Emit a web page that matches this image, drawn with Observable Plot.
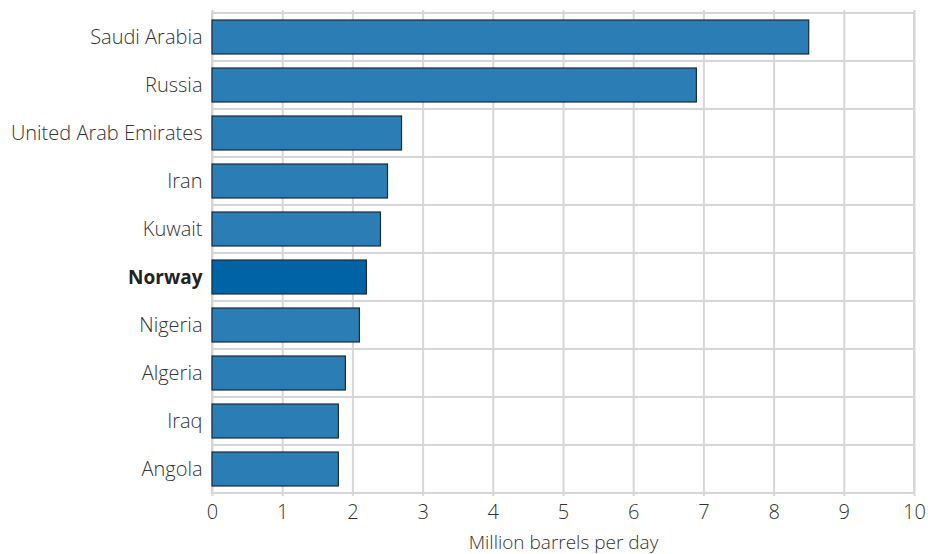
<!DOCTYPE html>
<html>
<head>
<meta charset="utf-8">
<script src="https://cdn.jsdelivr.net/npm/d3@7"></script>
<script src="https://cdn.jsdelivr.net/npm/@observablehq/plot@0.6"></script>
<style>
  html, body { margin: 0; padding: 0; background: #fff; }
  #chart svg { display: block; }
</style>
</head>
<body>
<div id="chart"></div>
<script>
const countries = ["Saudi Arabia", "Russia", "United Arab Emirates", "Iran", "Kuwait", "Norway", "Nigeria", "Algeria", "Iraq", "Angola"];
const production = [8.5, 6.9, 2.7, 2.5, 2.4, 2.2, 2.1, 1.9, 1.8, 1.8];
const highlight = "Norway";
const xTicks = [0, 1, 2, 3, 4, 5, 6, 7, 8, 9, 10];
const xLabel = "Million barrels per day";

const data = countries.map((c, i) => ({country: c, value: production[i]}));

const chart = Plot.plot({
  width: 928,
  height: 554,
  marginLeft: 212,
  marginRight: 14,
  marginTop: 10,
  marginBottom: 58,
  style: {fontFamily: "'Open Sans', sans-serif", fontSize: "20px", fontWeight: 300, color: "#333", background: "#fff"},
  x: {domain: [0, 10], ticks: xTicks, label: null},
  y: {domain: countries, padding: 0, label: null, axis: null},
  marks: [
    Plot.gridX(xTicks, {stroke: "#d6d6d6", strokeWidth: 2, strokeOpacity: 1}),
    Plot.barX(countries, {y: d => d, x1: 0, x2: 10, fill: "none", stroke: "#d6d6d6", strokeWidth: 2}),
    Plot.barX(data, {
      y: "country", x: "value",
      fill: d => d.country === highlight ? "#0063a6" : "#2a7db5",
      stroke: "#1c2b3a", strokeWidth: 1.2,
      insetTop: 7, insetBottom: 7
    }),
    Plot.text(countries.filter(c => c !== highlight), {
      y: d => d, x: 0, dx: -10, text: d => d, textAnchor: "end",
      fill: "#333", fontSize: 20, fontWeight: 300
    }),
    Plot.text([highlight], {
      y: d => d, x: 0, dx: -10, text: d => d, textAnchor: "end",
      fill: "#222", fontSize: 19, fontWeight: "bold"
    }),
    Plot.axisX(xTicks, {tickSize: 0, tickPadding: 8, fontSize: 20, fontWeight: 300, fill: "#333", label: null}),
    Plot.text([xLabel], {
      x: 5, frameAnchor: "bottom", lineAnchor: "middle", dy: 46, text: d => d,
      fill: "#333", fontSize: 19, fontWeight: 300
    })
  ]
});

document.getElementById("chart").append(chart);
</script>
</body>
</html>
